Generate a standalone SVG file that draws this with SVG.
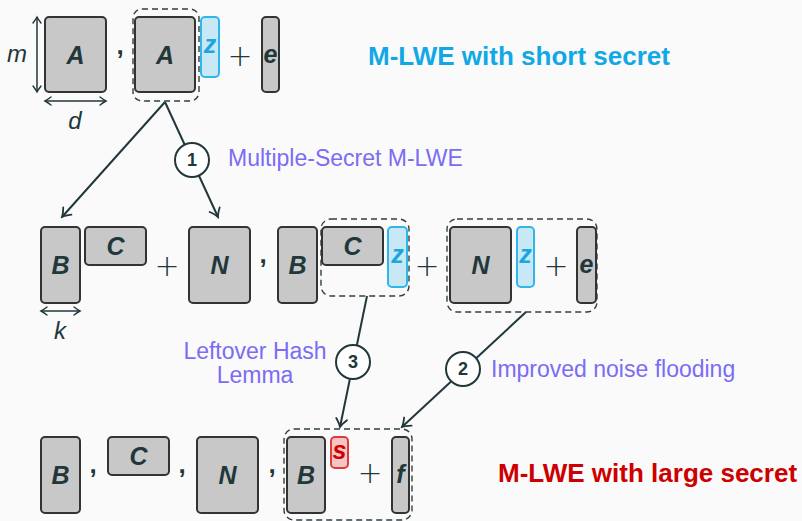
<svg xmlns="http://www.w3.org/2000/svg" width="802" height="521" viewBox="0 0 802 521">
<defs>
<style>
.bx{fill:#c8c8c8;stroke:#333;stroke-width:2}
.zb{fill:#c9e8f5;stroke:#2fb7ec;stroke-width:2}
.sb{fill:#f3c5c5;stroke:#e03b3b;stroke-width:2}
.dash{fill:none;stroke:#2f3f42;stroke-width:1.4;stroke-dasharray:6 4}
.lt{font-family:"Liberation Sans",Arial,sans-serif;font-weight:bold;font-style:italic;font-size:25px;fill:#22373a;text-anchor:middle}
.zt{fill:#19a7df}
.st{fill:#d00000}
.it{font-family:"Liberation Sans",Arial,sans-serif;font-style:italic;font-size:24px;fill:#22373a;text-anchor:middle}
.op{font-family:"DejaVu Sans",sans-serif;font-weight:300;font-size:30px;fill:#22373a;text-anchor:middle}
.cm{font-family:"Liberation Sans",Arial,sans-serif;font-weight:bold;font-size:26px;fill:#22373a;text-anchor:middle}
.pl{font-family:"Liberation Sans",Arial,sans-serif;font-size:23px;fill:#7b6cf4}
.title{font-family:"Liberation Sans",Arial,sans-serif;font-weight:bold;font-size:26px}
.con{stroke:#22373a;stroke-width:2;fill:none}
.dim{stroke:#22373a;stroke-width:1.5;fill:none}
.circ{fill:#fff;stroke:#22373a;stroke-width:2}
.num{font-family:"Liberation Sans",Arial,sans-serif;font-weight:bold;font-size:18px;fill:#22373a;text-anchor:middle}
</style>
<marker id="ah" viewBox="-10 -7 12 14" refX="0" refY="0" markerWidth="12" markerHeight="14" markerUnits="userSpaceOnUse" orient="auto">
<path d="M-8,-5.5 Q-3,-1.2 0,0 Q-3,1.2 -8,5.5" fill="none" stroke="#22373a" stroke-width="1.8" stroke-linecap="round"/>
</marker>
<marker id="dh" viewBox="-8 -5 10 10" refX="0" refY="0" markerWidth="10" markerHeight="10" markerUnits="userSpaceOnUse" orient="auto-start-reverse">
<path d="M-6,-4 Q-2,-1 0,0 Q-2,1 -6,4" fill="none" stroke="#22373a" stroke-width="1.4" stroke-linecap="round"/>
</marker>
</defs>
<rect width="802" height="521" fill="#fafafa"/>

<g id="connectors">
<line class="con" x1="165" y1="102" x2="62" y2="217" marker-end="url(#ah)"/>
<line class="con" x1="165" y1="102" x2="218" y2="217" marker-end="url(#ah)"/>
<line class="con" x1="367" y1="296" x2="340" y2="427" marker-end="url(#ah)"/>
<line class="con" x1="526" y1="312" x2="402" y2="427" marker-end="url(#ah)"/>
</g>

<g id="row1">
<line class="dim" x1="37" y1="17" x2="37" y2="92" marker-start="url(#dh)" marker-end="url(#dh)"/>
<text class="it" x="17" y="62">m</text>
<g id="A1"><rect class="bx" x="45" y="17" width="61" height="75" rx="4"/><text class="lt" x="75.5" y="64">A</text></g>
<line class="dim" x1="45" y1="101" x2="106" y2="101" marker-start="url(#dh)" marker-end="url(#dh)"/>
<text class="it" x="75" y="129">d</text>
<text class="cm" x="120" y="54">,</text>
<rect id="dash1" class="dash" x="133" y="9" width="66" height="92" rx="9"/>
<g id="A2"><rect class="bx" x="135" y="17" width="60" height="75" rx="4"/><text class="lt" x="165" y="64">A</text></g>
<g id="z1"><rect class="zb" x="201" y="17" width="18" height="60" rx="4"/><text class="lt zt" x="210" y="53">z</text></g>
<text class="op" x="240" y="66">+</text>
<g id="e1"><rect class="bx" x="262" y="17" width="17" height="75" rx="4"/><text class="lt" x="270.5" y="63">e</text></g>
<text class="title" x="368" y="65" fill="#12a8e6">M-LWE with short secret</text>
</g>

<g id="step1">
<circle class="circ" cx="192" cy="160" r="17"/>
<text class="num" x="192" y="166">1</text>
<text class="pl" x="228" y="166">Multiple-Secret M-LWE</text>
</g>

<g id="row2">
<g id="B1"><rect class="bx" x="41" y="227" width="39" height="76" rx="4"/><text class="lt" x="60.5" y="274">B</text></g>
<line class="dim" x1="41" y1="311" x2="80" y2="311" marker-start="url(#dh)" marker-end="url(#dh)"/>
<text class="it" x="60" y="339">k</text>
<g id="C1"><rect class="bx" x="85" y="227" width="61" height="38" rx="4"/><text class="lt" x="115.5" y="255">C</text></g>
<text class="op" x="167" y="276">+</text>
<g id="N1"><rect class="bx" x="189" y="227" width="61" height="76" rx="4"/><text class="lt" x="219.5" y="274">N</text></g>
<text class="cm" x="263" y="263">,</text>
<g id="B2"><rect class="bx" x="278" y="227" width="39" height="76" rx="4"/><text class="lt" x="297.5" y="274">B</text></g>
<rect id="dash2" class="dash" x="321" y="219" width="88" height="77" rx="10"/>
<g id="C2"><rect class="bx" x="322" y="227" width="61" height="38" rx="4"/><text class="lt" x="352.5" y="255">C</text></g>
<g id="z2"><rect class="zb" x="388" y="227" width="19" height="60" rx="4"/><text class="lt zt" x="397.5" y="263">z</text></g>
<text class="op" x="427" y="276">+</text>
<rect id="dash3" class="dash" x="447" y="219" width="150" height="93" rx="10"/>
<g id="N2"><rect class="bx" x="450" y="227" width="61" height="76" rx="4"/><text class="lt" x="480.5" y="274">N</text></g>
<g id="z3"><rect class="zb" x="517" y="227" width="17" height="60" rx="4"/><text class="lt zt" x="525.5" y="263">z</text></g>
<text class="op" x="556" y="276">+</text>
<g id="e2"><rect class="bx" x="577" y="227" width="19" height="76" rx="4"/><text class="lt" x="586.5" y="273">e</text></g>
</g>

<g id="step3">
<circle class="circ" cx="353" cy="362" r="17"/>
<text class="num" x="353" y="368">3</text>
<text class="pl" x="255" y="359" text-anchor="middle">Leftover Hash</text>
<text class="pl" x="255" y="383" text-anchor="middle">Lemma</text>
</g>

<g id="step2">
<circle class="circ" cx="463" cy="369" r="17"/>
<text class="num" x="463" y="375">2</text>
<text class="pl" x="491" y="377">Improved noise flooding</text>
</g>

<g id="row3">
<g id="B3"><rect class="bx" x="41" y="437" width="39" height="76" rx="4"/><text class="lt" x="60.5" y="484">B</text></g>
<text class="cm" x="93" y="473">,</text>
<g id="C3"><rect class="bx" x="108" y="437" width="61" height="38" rx="4"/><text class="lt" x="138.5" y="465">C</text></g>
<text class="cm" x="182" y="473">,</text>
<g id="N3"><rect class="bx" x="197" y="437" width="61" height="76" rx="4"/><text class="lt" x="227.5" y="484">N</text></g>
<text class="cm" x="272" y="473">,</text>
<rect id="dash4" class="dash" x="284" y="429" width="128" height="91" rx="10"/>
<g id="B4"><rect class="bx" x="287" y="437" width="38" height="76" rx="4"/><text class="lt" x="306" y="484">B</text></g>
<g id="s1"><rect class="sb" x="331" y="437" width="17" height="31" rx="4"/><text class="lt st" x="339.5" y="459">s</text></g>
<text class="op" x="370" y="483">+</text>
<g id="f1"><rect class="bx" x="392" y="437" width="17" height="76" rx="4"/><text class="lt" x="400.5" y="483">f</text></g>
<text class="title" x="498" y="482" fill="#cc0000">M-LWE with large secret</text>
</g>
</svg>
